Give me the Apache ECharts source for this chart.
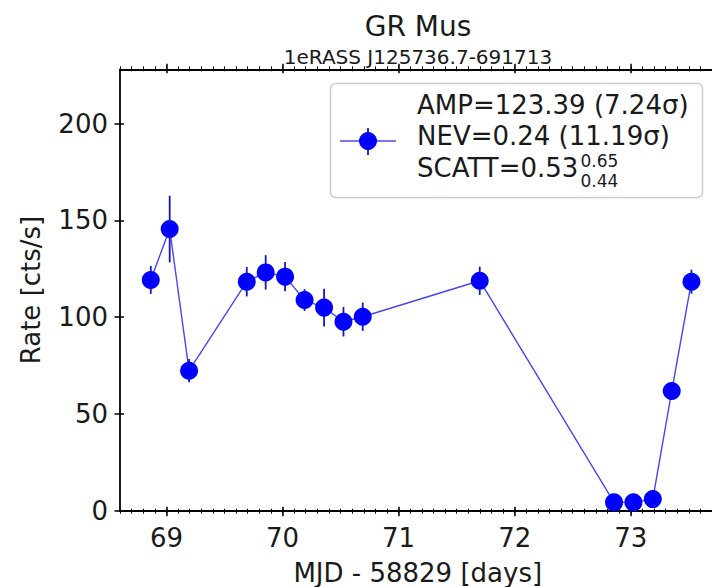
<!DOCTYPE html>
<html><head><meta charset="utf-8">
<script src="https://cdn.jsdelivr.net/npm/echarts@6/dist/echarts.min.js"></script>
<style>html,body{margin:0;padding:0;background:#fff}#c{width:712px;height:587px}</style>
</head><body><div id="c"></div>
<script>
// ---------------- data ----------------
const times  = [68.865, 69.028, 69.195, 69.692, 69.855, 70.022, 70.190, 70.358, 70.525, 70.691, 71.699, 72.856, 73.023, 73.190, 73.353, 73.523];
const rates  = [119.2, 145.5, 72.3, 118.3, 123.1, 120.9, 108.8, 104.9, 97.6, 100.2, 118.8, 4.3, 4.3, 6.0, 61.8, 118.3];
const errors = [7.2, 17.2, 6.0, 7.6, 8.9, 7.5, 5.6, 9.8, 7.6, 7.3, 7.3, 2.0, 2.0, 2.0, 4.0, 6.2];
const xTickLabels = ['69', '70', '71', '72', '73'];
const yTickLabels = ['0', '50', '100', '150', '200'];
const legendLines = ['AMP=123.39 (7.24σ)', 'NEV=0.24 (11.19σ)', 'SCATT=0.53'];
const scattSup = '0.65';
const scattSub = '0.44';
const titleText = 'GR Mus';
const subTitleText = '1eRASS J125736.7-691713';
const xName = 'MJD - 58829 [days]';
const yName = 'Rate [cts/s]';

// ---------------- axis extents ----------------
const X_MIN = 68.6, X_MAX = 73.73, TICK_X_MAX = 73.8;
const Y_MIN = 0, Y_MAX = 228;
const xCats = [];
for (let k = 686; k <= 738; k++) xCats.push((k / 10).toFixed(1));
const isMajorX = (i) => (686 + i) % 10 === 0;
const yCats = [];
for (let v = 0; v <= 228; v += 2) yCats.push(String(v));
const isMajorY = (i) => (i * 2) % 50 === 0;

// ---------------- layout / style ----------------
const FONT = '"DejaVu Sans", sans-serif';
const INK = '#1a1a1a';
const gridLeft = 120, gridTop = 69.3, gridH = 441.4, pxPerDay = 116.08;
const axisLineStyle = { color: '#000', width: 1.8 };

function textWidth(str, size) {
  const c = document.createElement('canvas').getContext('2d');
  c.font = size + 'px "DejaVu Sans"';
  return c.measureText(str).width;
}

const chart = echarts.init(document.getElementById('c'), null, { renderer: 'svg' });

const catXAxis = (pos, offset, len, width, major) => ({
  type: 'category', gridIndex: 1, position: pos, data: xCats, boundaryGap: false, offset: offset,
  axisLine: { show: false, onZero: false },
  axisTick: { show: true, interval: major ? (i) => isMajorX(i) : 0, length: len, lineStyle: { color: '#000', width: width } },
  axisLabel: (major && pos === 'bottom') ? {
    show: true, interval: (i) => isMajorX(i), margin: 18, fontSize: 26, color: INK, fontFamily: FONT,
    formatter: (v) => { const s = String(Math.round(parseFloat(v))); return xTickLabels.includes(s) ? s : ''; }
  } : { show: false },
  splitLine: { show: false }
});

const sw = textWidth(legendLines[2], 26);
const legX = 417;

const option = {
  animation: false,
  backgroundColor: '#ffffff',
  grid: [
    { left: gridLeft, top: gridTop, height: gridH, width: (X_MAX - X_MIN) * pxPerDay, containLabel: false, outerBoundsMode: 'none' },
    { left: gridLeft, top: gridTop, height: gridH, width: (TICK_X_MAX - X_MIN) * pxPerDay, containLabel: false, outerBoundsMode: 'none' }
  ],
  xAxis: [
    { type: 'value', gridIndex: 0, position: 'bottom', min: X_MIN, max: X_MAX,
      axisLine: { show: true, onZero: false, lineStyle: axisLineStyle },
      axisTick: { show: false }, axisLabel: { show: false }, splitLine: { show: false },
      name: xName, nameLocation: 'middle', nameGap: 49, nameMoveOverlap: false,
      nameTextStyle: { fontSize: 26, color: INK, fontFamily: FONT } },
    { type: 'value', gridIndex: 0, position: 'top', min: X_MIN, max: X_MAX,
      axisLine: { show: true, onZero: false, lineStyle: axisLineStyle },
      axisTick: { show: false }, axisLabel: { show: false }, splitLine: { show: false } },
    catXAxis('bottom', -4, 9.5, 1.5, true),
    catXAxis('bottom', -2, 5, 1, false),
    catXAxis('top', -4, 9.5, 1.5, true),
    catXAxis('top', -2, 5, 1, false)
  ],
  yAxis: [
    { type: 'value', gridIndex: 0, position: 'left', min: Y_MIN, max: Y_MAX, interval: 50,
      axisLine: { show: true, onZero: false, lineStyle: axisLineStyle },
      axisTick: { show: false }, splitLine: { show: false },
      axisLabel: { show: true, margin: 12, fontSize: 26, color: INK, fontFamily: FONT, showMaxLabel: false,
        formatter: (v) => yTickLabels.includes(String(v)) ? String(v) : '' },
      name: yName, nameLocation: 'middle', nameRotate: 90, nameGap: 76, nameMoveOverlap: false,
      nameTextStyle: { fontSize: 26, color: INK, fontFamily: FONT } },
    { type: 'category', gridIndex: 1, position: 'left', data: yCats, boundaryGap: false, offset: -4,
      axisLine: { show: false, onZero: false },
      axisTick: { show: true, interval: (i) => isMajorY(i), length: 9.5, lineStyle: { color: '#000', width: 1.5 } },
      axisLabel: { show: false }, splitLine: { show: false } }
  ],
  series: [
    { type: 'custom', xAxisIndex: 0, yAxisIndex: 0, z: 2,
      data: times.map((t, i) => [t, rates[i], errors[i]]),
      encode: { x: 0, y: 1 },
      renderItem: (params, api) => {
        const x = api.value(0), y = api.value(1), e = api.value(2);
        const a = api.coord([x, y + e]), b = api.coord([x, y - e]);
        return { type: 'line', shape: { x1: a[0], y1: a[1], x2: b[0], y2: b[1] },
                 style: { stroke: '#1414c8', lineWidth: 1.8 } };
      } },
    { type: 'line', xAxisIndex: 0, yAxisIndex: 0, z: 3,
      data: times.map((t, i) => [t, rates[i]]),
      symbol: 'circle', symbolSize: 18, showSymbol: true,
      itemStyle: { color: '#0000ff' },
      lineStyle: { color: 'rgba(10,10,230,0.75)', width: 1.4 } }
  ],
  graphic: [
    { type: 'text', x: 418, y: 26, z: 20,
      style: { text: titleText, fontSize: 28, fontFamily: FONT, fill: INK, align: 'center', verticalAlign: 'middle', textAlign: 'center', textVerticalAlign: 'middle' } },
    { type: 'text', x: 418, y: 57, z: 20,
      style: { text: subTitleText, fontSize: 20, fontFamily: FONT, fill: INK, align: 'center', verticalAlign: 'middle', textAlign: 'center', textVerticalAlign: 'middle' } },
    { type: 'rect', z: 30, shape: { x: 330.5, y: 83.5, width: 372, height: 114, r: 5 },
      style: { fill: 'rgba(255,255,255,0.8)', stroke: '#cccccc', lineWidth: 1.5 } },
    { type: 'line', z: 31, shape: { x1: 340, y1: 141, x2: 396, y2: 141 }, style: { stroke: 'rgba(10,10,230,0.75)', lineWidth: 1.4 } },
    { type: 'line', z: 31, shape: { x1: 368, y1: 128, x2: 368, y2: 155 }, style: { stroke: '#1414c8', lineWidth: 1.8 } },
    { type: 'circle', z: 32, shape: { cx: 368, cy: 141, r: 9 }, style: { fill: '#0000ff' } },
    { type: 'text', x: legX, y: 105, z: 33,
      style: { text: legendLines[0], fontSize: 26, fontFamily: FONT, fill: INK, align: 'left', verticalAlign: 'middle', textAlign: 'left', textVerticalAlign: 'middle' } },
    { type: 'text', x: legX, y: 136, z: 33,
      style: { text: legendLines[1], fontSize: 26, fontFamily: FONT, fill: INK, align: 'left', verticalAlign: 'middle', textAlign: 'left', textVerticalAlign: 'middle' } },
    { type: 'text', x: legX, y: 168, z: 33,
      style: { text: legendLines[2], fontSize: 26, fontFamily: FONT, fill: INK, align: 'left', verticalAlign: 'middle', textAlign: 'left', textVerticalAlign: 'middle' } },
    { type: 'text', x: legX + sw + 2, y: 161, z: 33,
      style: { text: scattSup, fontSize: 17, fontFamily: FONT, fill: INK, align: 'left', verticalAlign: 'middle', textAlign: 'left', textVerticalAlign: 'middle' } },
    { type: 'text', x: legX + sw + 2, y: 181, z: 33,
      style: { text: scattSub, fontSize: 17, fontFamily: FONT, fill: INK, align: 'left', verticalAlign: 'middle', textAlign: 'left', textVerticalAlign: 'middle' } }
  ]
};
chart.setOption(option);
</script>
</body></html>
